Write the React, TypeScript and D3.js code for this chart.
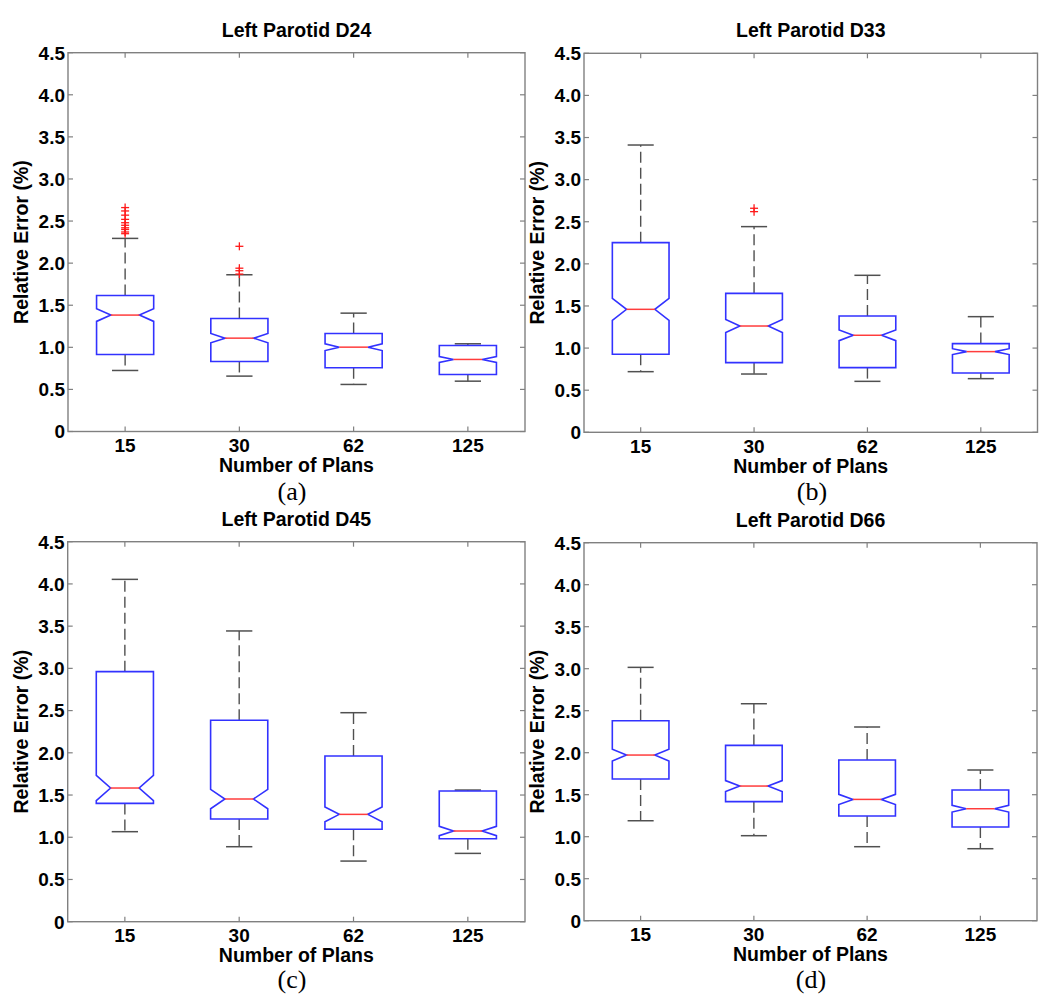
import React from 'react';
import * as d3 from 'd3';

// number of plans on the x axis
const plans = ['15', '30', '62', '125'];
const yTicks = [0, 0.5, 1, 1.5, 2, 2.5, 3, 3.5, 4, 4.5];
const yTickLabels = ['0', '0.5', '1.0', '1.5', '2.0', '2.5', '3.0', '3.5', '4.0', '4.5'];

// box stats: lower whisker, q1, median, q3, upper whisker, notch half height, outliers
const d24Boxes = [
  { lo: 0.725, q1: 0.915, med: 1.383, q3: 1.616, hi: 2.294, notch: 0.075, out: [2.66, 2.62, 2.57, 2.52, 2.48, 2.45, 2.42, 2.4, 2.37, 2.35] },
  { lo: 0.658, q1: 0.832, med: 1.109, q3: 1.343, hi: 1.862, notch: 0.055, out: [2.2, 1.94, 1.91, 1.87] },
  { lo: 0.559, q1: 0.757, med: 1.002, q3: 1.165, hi: 1.406, notch: 0.04, out: [] },
  { lo: 0.598, q1: 0.678, med: 0.856, q3: 1.022, hi: 1.042, notch: 0.035, out: [] },
];

const d33Boxes = [
  { lo: 0.72, q1: 0.926, med: 1.46, q3: 2.252, hi: 3.411, notch: 0.13, out: [] },
  { lo: 0.692, q1: 0.827, med: 1.262, q3: 1.65, hi: 2.442, notch: 0.077, out: [2.66, 2.62] },
  { lo: 0.605, q1: 0.768, med: 1.152, q3: 1.381, hi: 1.864, notch: 0.064, out: [] },
  { lo: 0.637, q1: 0.704, med: 0.958, q3: 1.053, hi: 1.373, notch: 0.035, out: [] },
];

const d45Boxes = [
  { lo: 1.066, q1: 1.401, med: 1.583, q3: 2.961, hi: 4.054, notch: 0.15, out: [] },
  { lo: 0.888, q1: 1.216, med: 1.453, q3: 2.385, hi: 3.443, notch: 0.115, out: [] },
  { lo: 0.718, q1: 1.094, med: 1.271, q3: 1.962, hi: 2.475, notch: 0.088, out: [] },
  { lo: 0.809, q1: 0.983, med: 1.074, q3: 1.548, hi: 1.559, notch: 0.055, out: [] },
];

const d66Boxes = [
  { lo: 1.19, q1: 1.687, med: 1.972, q3: 2.381, hi: 3.016, notch: 0.07, out: [] },
  { lo: 1.012, q1: 1.417, med: 1.603, q3: 2.087, hi: 2.583, notch: 0.065, out: [] },
  { lo: 0.881, q1: 1.246, med: 1.444, q3: 1.913, hi: 2.306, notch: 0.06, out: [] },
  { lo: 0.857, q1: 1.115, med: 1.333, q3: 1.556, hi: 1.794, notch: 0.04, out: [] },
];

const titles = ['Left Parotid D24', 'Left Parotid D33', 'Left Parotid D45', 'Left Parotid D66'];
const captions = ['(a)', '(b)', '(c)', '(d)'];

// frames of each axes box in page pixels
const frames = [
  { left: 68, right: 525, top: 52.7, bottom: 431.5, capX: 292, capY: 500 },
  { left: 584, right: 1037.5, top: 53.3, bottom: 432.3, capX: 812, capY: 500 },
  { left: 67.7, right: 525, top: 541.7, bottom: 921.7, capX: 292, capY: 988 },
  { left: 584, right: 1037, top: 542.7, bottom: 920.7, capX: 811, capY: 988 },
];

const FONT = '"Liberation Sans", Arial, Helvetica, sans-serif';
const BLUE = '#3232ff';
const RED = '#ff3c3c';
const WHISK = '#505050';
const FRAME = '#808080';

function Panel({ boxes, title, caption, f }) {
  const x = d3.scalePoint().domain(plans).range([f.left, f.right]).padding(0.5);
  const y = d3.scaleLinear().domain([0, 4.5]).range([f.bottom, f.top]);
  const step = x.step();
  const bw = step * 0.5;
  const capW = step * 0.23;
  const tick = 5;
  const cx = (f.left + f.right) / 2;
  const cy = (f.top + f.bottom) / 2;

  return (
    <g>
      <text x={cx} y={f.top - 16} textAnchor="middle" fontFamily={FONT} fontWeight="bold" fontSize={19.5}>{title}</text>

      {/* boxes */}
      {boxes.map((b, i) => {
        const xc = x(plans[i]);
        const l = xc - bw / 2;
        const r = xc + bw / 2;
        const path = d3.path();
        path.moveTo(l, y(b.q1));
        path.lineTo(l, y(b.med - b.notch));
        path.lineTo(l + bw / 4, y(b.med));
        path.lineTo(l, y(b.med + b.notch));
        path.lineTo(l, y(b.q3));
        path.lineTo(r, y(b.q3));
        path.lineTo(r, y(b.med + b.notch));
        path.lineTo(r - bw / 4, y(b.med));
        path.lineTo(r, y(b.med - b.notch));
        path.lineTo(r, y(b.q1));
        path.closePath();
        return (
          <g key={i}>
            <line x1={xc} x2={xc} y1={y(b.q3)} y2={y(b.hi)} stroke={WHISK} strokeWidth={1.4} strokeDasharray="11,5" />
            <line x1={xc} x2={xc} y1={y(b.q1)} y2={y(b.lo)} stroke={WHISK} strokeWidth={1.4} strokeDasharray="11,5" />
            <line x1={xc - capW / 2} x2={xc + capW / 2} y1={y(b.hi)} y2={y(b.hi)} stroke={WHISK} strokeWidth={1.5} />
            <line x1={xc - capW / 2} x2={xc + capW / 2} y1={y(b.lo)} y2={y(b.lo)} stroke={WHISK} strokeWidth={1.5} />
            <path d={path.toString()} fill="none" stroke={BLUE} strokeWidth={1.6} />
            <line x1={l + bw / 4} x2={r - bw / 4} y1={y(b.med)} y2={y(b.med)} stroke={RED} strokeWidth={1.5} />
            {b.out.map((o, j) => (
              <g key={j} stroke="#ff1a1a" strokeWidth={1.3}>
                <line x1={xc - 4} x2={xc + 4} y1={y(o)} y2={y(o)} />
                <line x1={xc} x2={xc} y1={y(o) - 4} y2={y(o) + 4} />
              </g>
            ))}
          </g>
        );
      })}

      {/* frame + inward ticks */}
      <rect x={f.left} y={f.top} width={f.right - f.left} height={f.bottom - f.top} fill="none" stroke={FRAME} strokeWidth={1.4} />
      {yTicks.map((t, i) => (
        <g key={'y' + i}>
          <line x1={f.left} x2={f.left + tick} y1={y(t)} y2={y(t)} stroke={FRAME} strokeWidth={1.2} />
          <line x1={f.right} x2={f.right - tick} y1={y(t)} y2={y(t)} stroke={FRAME} strokeWidth={1.2} />
          <text x={f.left - 3} y={y(t)} dy="0.36em" textAnchor="end" fontFamily={FONT} fontWeight="bold" fontSize={19}>{yTickLabels[i]}</text>
        </g>
      ))}
      {plans.map((p) => (
        <g key={'x' + p}>
          <line x1={x(p)} x2={x(p)} y1={f.bottom} y2={f.bottom - tick} stroke={FRAME} strokeWidth={1.2} />
          <line x1={x(p)} x2={x(p)} y1={f.top} y2={f.top + tick} stroke={FRAME} strokeWidth={1.2} />
          <text x={x(p)} y={f.bottom + 20.5} textAnchor="middle" fontFamily={FONT} fontWeight="bold" fontSize={19}>{p}</text>
        </g>
      ))}

      <text x={cx} y={f.bottom + 40.7} textAnchor="middle" fontFamily={FONT} fontWeight="bold" fontSize={19.5}>Number of Plans</text>
      <text transform={`translate(${f.left - 40},${cy}) rotate(-90)`} textAnchor="middle" fontFamily={FONT} fontWeight="bold" fontSize={19.5}>Relative Error (%)</text>
      <text x={f.capX} y={f.capY} textAnchor="middle" fontFamily='"Liberation Serif", "Times New Roman", serif' fontSize={26}>{caption}</text>
    </g>
  );
}

export default function App() {
  const all = [d24Boxes, d33Boxes, d45Boxes, d66Boxes];
  return (
    <div style={{ position: 'absolute', left: 0, top: 0 }}>
      <svg width={1050} height={1003} style={{ display: 'block', background: '#fff' }}>
        {all.map((boxes, i) => (
          <Panel key={i} boxes={boxes} title={titles[i]} caption={captions[i]} f={frames[i]} />
        ))}
      </svg>
    </div>
  );
}
